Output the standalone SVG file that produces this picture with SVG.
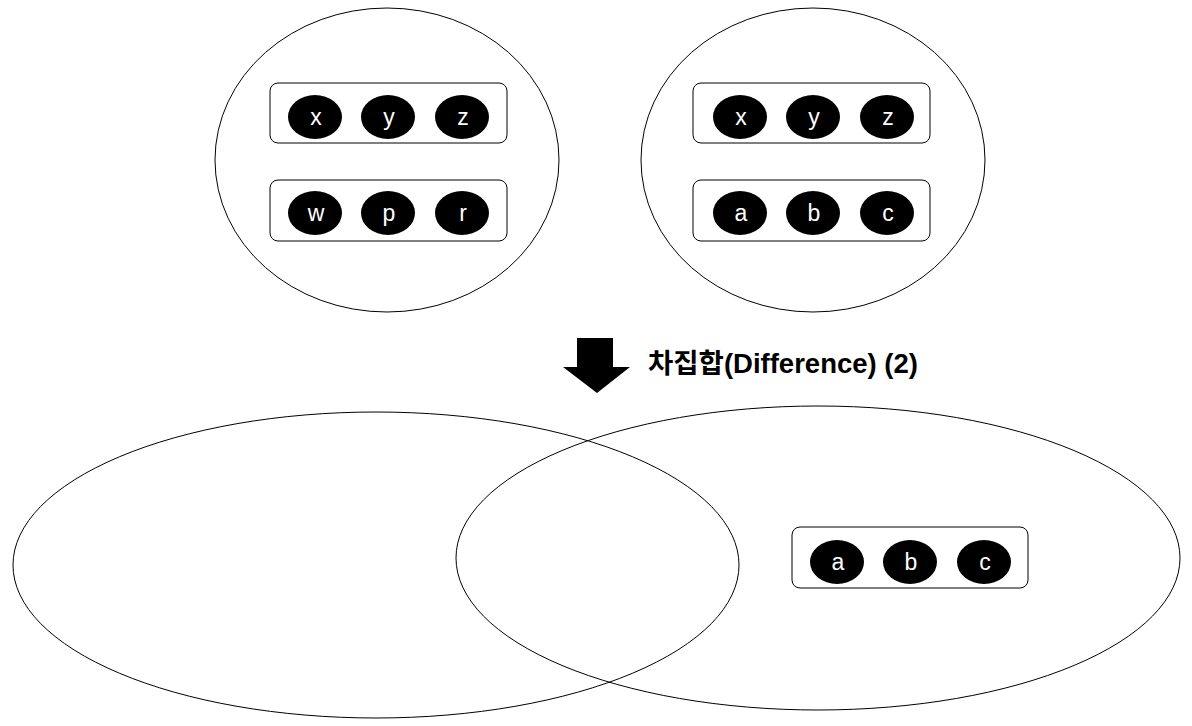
<svg xmlns="http://www.w3.org/2000/svg" width="1192" height="726" viewBox="0 0 1192 726">
<style>
.set{fill:none;stroke:#000;stroke-width:1}
.box{fill:#fff;stroke:#000;stroke-width:1}
.dot{fill:#000}
.lbl{fill:#fff;font-family:"Liberation Sans",Arial,sans-serif;font-size:23px;text-anchor:middle}
.title{fill:#000;font-family:"Liberation Sans","Noto Sans CJK KR",sans-serif;font-size:27.5px;font-weight:bold}
</style>
<rect width="1192" height="726" fill="#fff"/>
<g id="setA">
<ellipse class="set" cx="387" cy="160" rx="172" ry="152"/>
</g>
<g id="setB">
<ellipse class="set" cx="813" cy="160" rx="172" ry="152"/>
</g>
<g id="A-xyz">
<rect class="box" x="270" y="83" width="237" height="60" rx="8"/>
<ellipse class="dot" cx="315" cy="117" rx="27" ry="22"/><text class="lbl" x="316" y="125">x</text>
<ellipse class="dot" cx="388" cy="117" rx="27" ry="22"/><text class="lbl" x="389" y="125">y</text>
<ellipse class="dot" cx="462" cy="117" rx="27" ry="22"/><text class="lbl" x="463" y="125">z</text>
</g>
<g id="A-wpr">
<rect class="box" x="270" y="180" width="237" height="61" rx="8"/>
<ellipse class="dot" cx="315" cy="213" rx="27" ry="22"/><text class="lbl" x="316" y="221">w</text>
<ellipse class="dot" cx="388" cy="213" rx="27" ry="22"/><text class="lbl" x="389" y="221">p</text>
<ellipse class="dot" cx="462" cy="213" rx="27" ry="22"/><text class="lbl" x="463" y="221">r</text>
</g>
<g id="B-xyz">
<rect class="box" x="693" y="83" width="237" height="60" rx="8"/>
<ellipse class="dot" cx="740" cy="117" rx="27" ry="22"/><text class="lbl" x="741" y="125">x</text>
<ellipse class="dot" cx="813" cy="117" rx="27" ry="22"/><text class="lbl" x="814" y="125">y</text>
<ellipse class="dot" cx="887" cy="117" rx="27" ry="22"/><text class="lbl" x="888" y="125">z</text>
</g>
<g id="B-abc">
<rect class="box" x="693" y="180" width="237" height="61" rx="8"/>
<ellipse class="dot" cx="740" cy="213" rx="27" ry="22"/><text class="lbl" x="741" y="221">a</text>
<ellipse class="dot" cx="813" cy="213" rx="27" ry="22"/><text class="lbl" x="814" y="221">b</text>
<ellipse class="dot" cx="887" cy="213" rx="27" ry="22"/><text class="lbl" x="888" y="221">c</text>
</g>
<g id="connectors">
<polygon fill="#000" points="577,338 613,338 613,367 630,367 597,393 563,367 577,367"/>
</g>
<g id="title">
<text class="title" x="648" y="373">차집합(Difference) (2)</text>
</g>
<g id="resultA">
<ellipse class="set" cx="376" cy="565" rx="363" ry="153"/>
</g>
<g id="resultB">
<ellipse class="set" cx="818" cy="558" rx="362" ry="152"/>
</g>
<g id="R-abc">
<rect class="box" x="792" y="527" width="236" height="61" rx="8"/>
<ellipse class="dot" cx="837" cy="562" rx="27" ry="22"/><text class="lbl" x="838" y="570">a</text>
<ellipse class="dot" cx="910" cy="562" rx="27" ry="22"/><text class="lbl" x="911" y="570">b</text>
<ellipse class="dot" cx="984" cy="562" rx="27" ry="22"/><text class="lbl" x="985" y="570">c</text>
</g>
</svg>
